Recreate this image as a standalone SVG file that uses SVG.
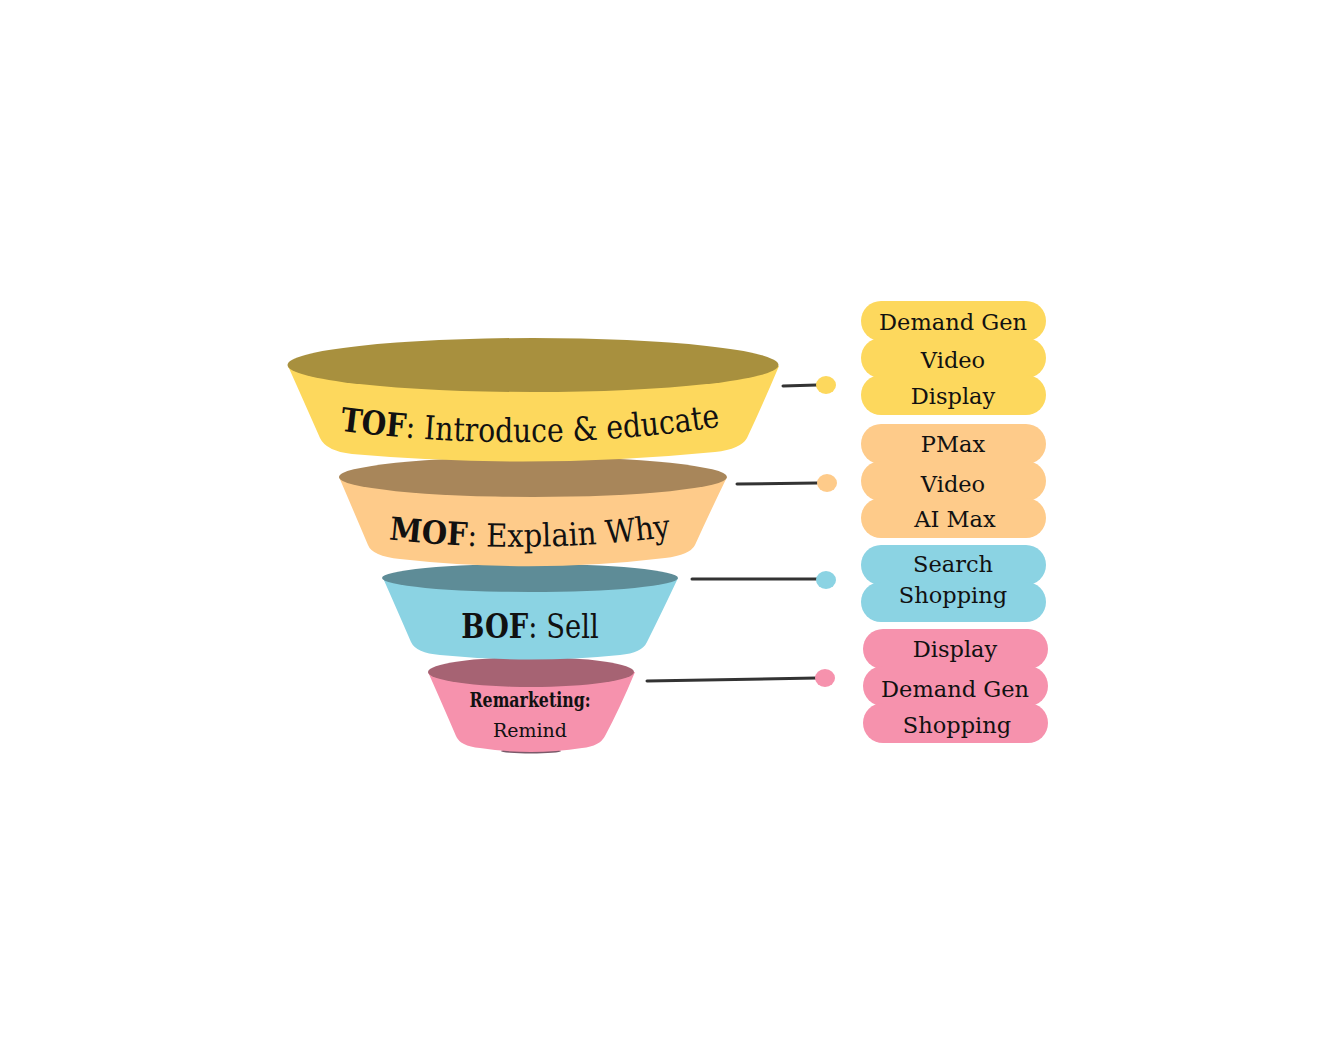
<svg xmlns="http://www.w3.org/2000/svg" width="1322" height="1043" viewBox="0 0 1322 1043">
<style>
.lbl{font-family:"DejaVu Serif","Liberation Serif",serif;fill:#111}
.pill{font-family:"DejaVu Serif","Liberation Serif",serif;font-size:22.5px;fill:#111;text-anchor:middle}
.b{font-weight:bold}
.conn{stroke:#333;stroke-width:3;stroke-linecap:round;fill:none}
</style>
<defs>
<path id="tofPath" d="M335 430 Q530 456 725 426"/>
<path id="mofPath" d="M385 539 Q530 556 675 536"/>
</defs>
<rect width="1322" height="1043" fill="#fff"/>

<g id="remarketing">
<ellipse cx="531" cy="751" rx="30" ry="2.5" fill="#7a5a6a"/>
<path d="M428 672 Q444 708 456 736 Q460 746 480 748 Q531 756 582 748 Q600 746 605 736 Q620 708 635 672 Z" fill="#F692AD"/>
<ellipse cx="531" cy="672" rx="103" ry="15" fill="#A66373"/>
<text class="lbl b" font-size="20" text-anchor="middle" transform="translate(530 707) scale(0.79 1)">Remarketing:</text>
<text class="lbl" x="530" y="737" font-size="19" text-anchor="middle">Remind</text>
</g>

<g id="bof">
<path d="M383 578 Q398 612 411 642 Q416 653 440 655 Q530 664 620 655 Q642 653 647 642 Q662 612 678 578 Z" fill="#8BD3E3"/>
<ellipse cx="530" cy="578" rx="148" ry="14" fill="#5E8C97"/>
<text class="lbl" font-size="33" text-anchor="middle" transform="translate(530 638) scale(0.83 1)"><tspan class="b">BOF</tspan>: Sell</text>
</g>

<g id="mof">
<path d="M339 477 Q354 512 368 545 Q372 556 400 559 Q533 574 665 558 Q690 555 695 545 Q710 512 727 477 Z" fill="#FECB8A"/>
<ellipse cx="533" cy="477" rx="194" ry="20" fill="#A8865A"/>
<text class="lbl" font-size="32" text-anchor="middle"><textPath href="#mofPath" startOffset="50%" textLength="283" lengthAdjust="spacingAndGlyphs"><tspan class="b">MOF</tspan>: Explain Why</textPath></text>
</g>

<g id="tof">
<path d="M288 366 Q305 404 320 438 Q326 451 352 454 Q533 470 715 452 Q741 449 747 438 Q763 404 779 366 Z" fill="#FDD85D"/>
<ellipse cx="533" cy="365" rx="245.5" ry="27" fill="#A8903E"/>
<text class="lbl" font-size="33" text-anchor="middle"><textPath href="#tofPath" startOffset="50%" textLength="382" lengthAdjust="spacingAndGlyphs"><tspan class="b">TOF</tspan>: Introduce &amp; educate</textPath></text>
</g>

<g id="connectors">
<path class="conn" d="M783 386 L817 385"/>
<ellipse cx="826" cy="385" rx="10" ry="9" fill="#FDD85D"/>
<path class="conn" d="M737 484 L817 483"/>
<ellipse cx="827" cy="483" rx="10" ry="9" fill="#FECB8A"/>
<path class="conn" d="M692 579 L818 579"/>
<ellipse cx="826" cy="580" rx="10" ry="9" fill="#8BD3E3"/>
<path class="conn" d="M647 681 L817 678"/>
<ellipse cx="825" cy="678" rx="10" ry="9" fill="#F692AD"/>
</g>

<g id="tof-channels" fill="#FDD85D">
<rect x="861" y="301" width="185" height="40" rx="20"/>
<rect x="861" y="338" width="185" height="40" rx="20"/>
<rect x="861" y="375" width="185" height="40" rx="20"/>
<text class="pill" x="953" y="330">Demand Gen</text>
<text class="pill" x="953" y="368">Video</text>
<text class="pill" x="953" y="404">Display</text>
</g>

<g id="mof-channels" fill="#FECB8A">
<rect x="861" y="424" width="185" height="40" rx="20"/>
<rect x="861" y="461" width="185" height="40" rx="20"/>
<rect x="861" y="498" width="185" height="40" rx="20"/>
<text class="pill" x="953" y="452">PMax</text>
<text class="pill" x="953" y="492">Video</text>
<text class="pill" x="955" y="527">AI Max</text>
</g>

<g id="bof-channels" fill="#8BD3E3">
<rect x="861" y="545" width="185" height="40" rx="20"/>
<rect x="861" y="582" width="185" height="40" rx="20"/>
<text class="pill" x="953" y="572">Search</text>
<text class="pill" x="953" y="603">Shopping</text>
</g>

<g id="remarketing-channels" fill="#F692AD">
<rect x="863" y="629" width="185" height="40" rx="20"/>
<rect x="863" y="666" width="185" height="40" rx="20"/>
<rect x="863" y="703" width="185" height="40" rx="20"/>
<text class="pill" x="955" y="657">Display</text>
<text class="pill" x="955" y="697">Demand Gen</text>
<text class="pill" x="957" y="733">Shopping</text>
</g>
</svg>
